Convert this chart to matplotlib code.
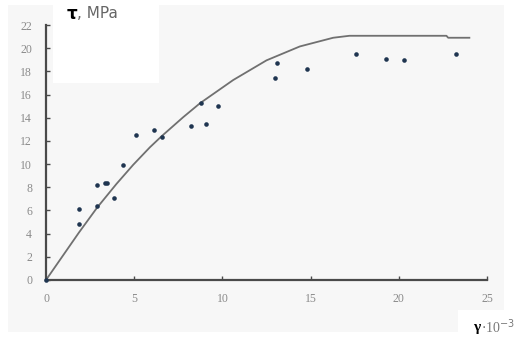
import matplotlib
matplotlib.use("Agg")
import matplotlib.pyplot as plt
from matplotlib.patches import Rectangle

# measured points (strain x 10^-3, stress MPa)
strain = [0.0, 1.87, 1.87, 2.87, 2.9, 3.34, 3.47, 3.85, 4.38, 5.1, 6.14, 6.55,
          8.2, 8.78, 9.07, 9.77, 12.97, 13.07, 14.79, 17.55, 19.26, 20.3, 23.23]
stress = [0.0, 6.1, 4.8, 8.2, 6.4, 8.4, 8.4, 7.1, 9.9, 12.5, 12.9, 12.3,
          13.3, 15.3, 13.5, 15.0, 17.4, 18.7, 18.2, 19.5, 19.1, 19.0, 19.5]

# fitted curve
curve_x = [0.0, 1.87, 2.9, 4.0, 4.95, 5.89, 6.55, 7.78, 8.73, 10.61, 12.5,
           14.39, 16.28, 17.2, 22.7, 22.8, 24.0]
curve_y = [0.0, 4.1, 6.25, 8.3, 9.95, 11.45, 12.4, 14.05, 15.25, 17.25, 18.95,
           20.15, 20.9, 21.07, 21.07, 20.9, 20.9]

x_ticks = [0, 5, 10, 15, 20, 25]
y_ticks = list(range(0, 23, 2))

W, H = 521, 341
fig = plt.figure(figsize=(W / 100, H / 100), dpi=100)
fig.patch.set_facecolor("white")

# grey panel plus the two white label boxes
fig.patches.append(Rectangle((8 / W, 1 - 332 / H), 496 / W, 327 / H,
                             transform=fig.transFigure, facecolor="#f7f7f7",
                             edgecolor="none", zorder=0))
fig.patches.append(Rectangle((53 / W, 1 - 83 / H), 106 / W, 83 / H,
                             transform=fig.transFigure, facecolor="white",
                             edgecolor="none", zorder=0))
fig.patches.append(Rectangle((458 / W, 0), 63 / W, 31 / H,
                             transform=fig.transFigure, facecolor="white",
                             edgecolor="none", zorder=0))

ax = fig.add_axes([46 / W, 1 - 280 / H, 441 / W, 255 / H])
ax.set_zorder(2)
ax.patch.set_alpha(0)

ax.plot(curve_x, curve_y, color="#707070", lw=1.3, zorder=2, clip_on=False,
        solid_joinstyle="round")
ax.plot(strain, stress, "o", color="#1f3550", ms=3.3, mew=0, zorder=3,
        clip_on=False)

ax.set_xlim(0, 25)
ax.set_ylim(0, 22)
ax.set_xticks(x_ticks)
ax.set_yticks(y_ticks)

for side in ("top", "right"):
    ax.spines[side].set_visible(False)
for side in ("left", "bottom"):
    ax.spines[side].set_color("#4a4a4a")
    ax.spines[side].set_linewidth(1.6)

ax.tick_params(direction="in", length=3, width=1, color="#4a4a4a",
               labelcolor="#8a8a8a", labelsize=8.5)
ax.tick_params(axis="y", pad=10)
ax.tick_params(axis="x", pad=9)
for lab in ax.get_xticklabels() + ax.get_yticklabels():
    lab.set_family("Liberation Serif")

fig.text(66 / W, 1 - 14 / H, r"$\mathbf{\tau}$", fontsize=12, color="black",
         va="center", ha="left", zorder=3)
fig.text(77 / W, 1 - 13 / H, ", MPa", fontsize=11, color="#666666",
         va="center", ha="left", family="DejaVu Sans", zorder=3)

fig.text(473 / W, 1 - 327 / H, "γ", fontsize=11, fontweight="bold",
         color="black", va="center", ha="left", family="Liberation Serif",
         zorder=3)
fig.text(481 / W, 1 - 327 / H, r"$\cdot$10$^{-3}$", fontsize=10,
         color="#777777", va="center", ha="left", family="Liberation Serif",
         zorder=3)

fig.savefig("out.png", dpi=100, facecolor=fig.get_facecolor())
